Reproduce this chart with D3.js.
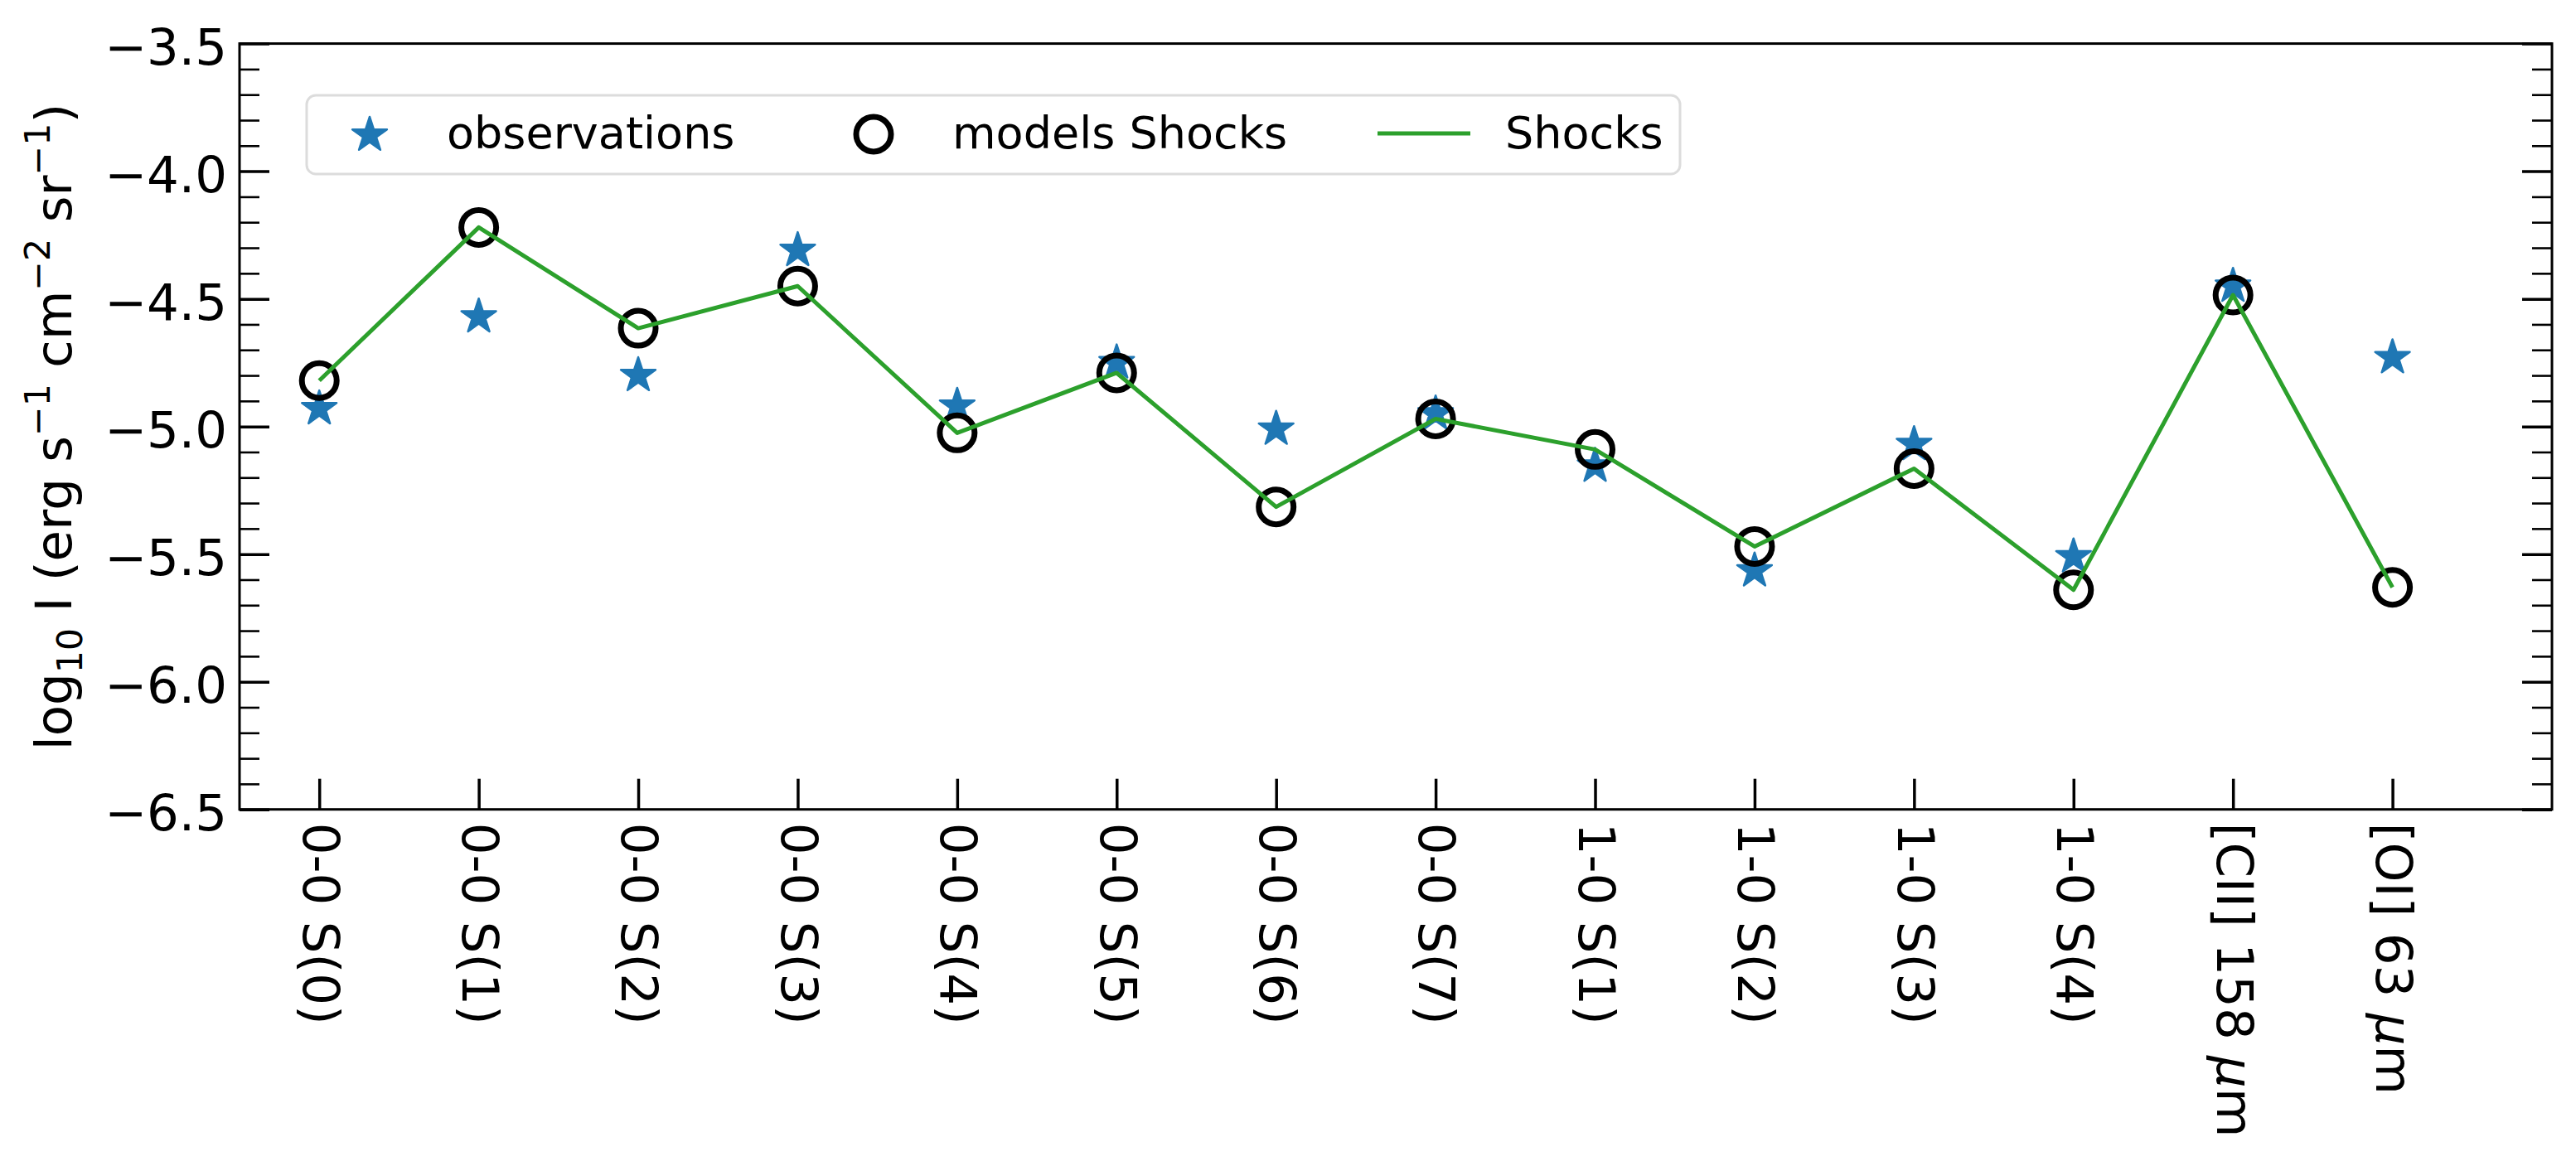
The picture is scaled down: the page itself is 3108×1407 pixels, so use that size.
<!DOCTYPE html>
<html>
<head>
<meta charset="utf-8">
<script src="https://cdn.jsdelivr.net/npm/d3@7"></script>
<style>
  html, body { margin: 0; padding: 0; background: #fff; }
  svg { display: block; font-family: "DejaVu Sans", sans-serif; }
</style>
</head>
<body>
<svg id="chart" width="3108" height="1407"></svg>
<script>
// ---- data ----
const categories = ["0-0 S(0)", "0-0 S(1)", "0-0 S(2)", "0-0 S(3)", "0-0 S(4)", "0-0 S(5)", "0-0 S(6)", "0-0 S(7)",
                    "1-0 S(1)", "1-0 S(2)", "1-0 S(3)", "1-0 S(4)", "[CII] 158 μm", "[OI] 63 μm"];
const observations = [-4.93, -4.57, -4.80, -4.31, -4.92, -4.75, -5.01, -4.95, -5.155, -5.565, -5.07, -5.51, -4.45, -4.73];
const modelsShocks = [-4.82, -4.22, -4.615, -4.45, -5.025, -4.79, -5.315, -4.97, -5.09, -5.47, -5.165, -5.64, -4.485, -5.63];
const yMajorTicks = [-6.5, -6.0, -5.5, -5.0, -4.5, -4.0, -3.5];
const legendLabels = ["observations", "models Shocks", "Shocks"];

// ---- layout ----
const W = 3108, H = 1407;
const L = 289, R = 3079, T = 52.6, B = 976.7;
const F = 61, LF = 54;
const blue = "#1f77b4", green = "#2ca02c";

const svg = d3.select("#chart");
const x = d3.scaleLinear().domain([-0.5, 14]).range([L, R]);
const y = d3.scaleLinear().domain([-6.5, -3.5]).range([B, T]);

const minorTicks = d3.range(-65, -34).map(v => v / 10).filter(v => Math.abs(v * 2 - Math.round(v * 2)) > 1e-6);

function styleAxis(g) {
  g.select(".domain").remove();
  g.selectAll(".tick line").attr("stroke", "#000");
}

// left major
svg.append("g").attr("transform", `translate(${L},0)`)
  .call(d3.axisLeft(y).tickValues(yMajorTicks).tickSize(-36).tickPadding(15).tickFormat(d3.format(".1f")))
  .call(styleAxis)
  .call(g => g.selectAll(".tick line").attr("stroke-width", 3.5))
  .call(g => g.selectAll(".tick text").attr("font-size", F).attr("font-family", "DejaVu Sans").attr("fill", "#000").attr("dy", "0.4em"));
// left minor
svg.append("g").attr("transform", `translate(${L},0)`)
  .call(d3.axisLeft(y).tickValues(minorTicks).tickSize(-24).tickFormat(""))
  .call(styleAxis)
  .call(g => g.selectAll(".tick line").attr("stroke-width", 2.6));
// right major
svg.append("g").attr("transform", `translate(${R},0)`)
  .call(d3.axisRight(y).tickValues(yMajorTicks).tickSize(-36).tickFormat(""))
  .call(styleAxis)
  .call(g => g.selectAll(".tick line").attr("stroke-width", 3.5));
// right minor
svg.append("g").attr("transform", `translate(${R},0)`)
  .call(d3.axisRight(y).tickValues(minorTicks).tickSize(-24).tickFormat(""))
  .call(styleAxis)
  .call(g => g.selectAll(".tick line").attr("stroke-width", 2.6));

// bottom axis
const xAxisG = svg.append("g").attr("transform", `translate(0,${B})`)
  .call(d3.axisBottom(x).tickValues(d3.range(categories.length)).tickSize(-37).tickFormat(i => categories[i]))
  .call(styleAxis)
  .call(g => g.selectAll(".tick line").attr("stroke-width", 3.5));
xAxisG.selectAll(".tick text").each(function(i) {
  const t = d3.select(this);
  const label = categories[i];
  t.text(null)
    .attr("font-size", F).attr("font-family", "DejaVu Sans").attr("fill", "#000")
    .attr("text-anchor", "start")
    .attr("x", 0).attr("y", 0).attr("dy", "0.33em")
    .attr("transform", "translate(0,16) rotate(90)");
  const parts = label.split("μ");
  t.append("tspan").text(parts[0]);
  if (parts.length > 1) {
    t.append("tspan").attr("font-style", "italic").text("μ");
    t.append("tspan").text(parts[1]);
  }
});

// frame
svg.append("rect").attr("x", L).attr("y", T).attr("width", R - L).attr("height", B - T)
  .attr("fill", "none").attr("stroke", "#000").attr("stroke-width", 3);

// ---- marks ----
const star = d3.symbol().type(d3.symbolStar).size(22 * 22 / 0.8908130915292852);

svg.append("g").selectAll("path").data(observations).join("path")
  .attr("d", star)
  .attr("transform", (d, i) => `translate(${x(i)},${y(d)})`)
  .attr("fill", blue).attr("stroke", blue).attr("stroke-width", 2.5).attr("stroke-linejoin", "round");

svg.append("g").selectAll("circle").data(modelsShocks).join("circle")
  .attr("cx", (d, i) => x(i)).attr("cy", d => y(d)).attr("r", 21)
  .attr("fill", "none").attr("stroke", "#000").attr("stroke-width", 7);

svg.append("path").datum(modelsShocks)
  .attr("d", d3.line().x((d, i) => x(i)).y(d => y(d)))
  .attr("fill", "none").attr("stroke", green).attr("stroke-width", 5).attr("stroke-linejoin", "round");

// ---- y label ----
const yl = svg.append("text")
  .attr("transform", `translate(86,515) rotate(-90)`)
  .attr("text-anchor", "middle").attr("font-size", F).attr("font-family", "DejaVu Sans").attr("fill", "#000");
const sm = F * 0.7;
yl.append("tspan").text("log");
yl.append("tspan").attr("font-size", sm).attr("dy", 0.22 * F).text("10");
yl.append("tspan").attr("dy", -0.22 * F).text(" I (erg s");
yl.append("tspan").attr("font-size", sm).attr("dy", -0.42 * F).text("−1");
yl.append("tspan").attr("dy", 0.42 * F).text(" cm");
yl.append("tspan").attr("font-size", sm).attr("dy", -0.42 * F).text("−2");
yl.append("tspan").attr("dy", 0.42 * F).text(" sr");
yl.append("tspan").attr("font-size", sm).attr("dy", -0.42 * F).text("−1");
yl.append("tspan").attr("dy", 0.42 * F).text(")");

// ---- legend ----
const lg = svg.append("g");
lg.append("rect").attr("x", 370).attr("y", 115).attr("width", 1657).attr("height", 95).attr("rx", 11)
  .attr("fill", "#fff").attr("fill-opacity", 0.8).attr("stroke", "#dcdcdc").attr("stroke-width", 3);
const ly = 161;
lg.append("path").attr("d", star).attr("transform", `translate(446,${ly + 2})`)
  .attr("fill", blue).attr("stroke", blue).attr("stroke-width", 2.5).attr("stroke-linejoin", "round");
lg.append("circle").attr("cx", 1054).attr("cy", ly + 1).attr("r", 21)
  .attr("fill", "none").attr("stroke", "#000").attr("stroke-width", 7);
lg.append("line").attr("x1", 1662).attr("x2", 1774).attr("y1", ly).attr("y2", ly)
  .attr("stroke", green).attr("stroke-width", 5);
const legX = [539, 1149, 1816];
lg.selectAll("text").data(legendLabels).join("text")
  .attr("x", (d, i) => legX[i]).attr("y", 179)
  .attr("font-size", LF).attr("font-family", "DejaVu Sans").attr("fill", "#000")
  .text(d => d);
</script>
</body>
</html>
